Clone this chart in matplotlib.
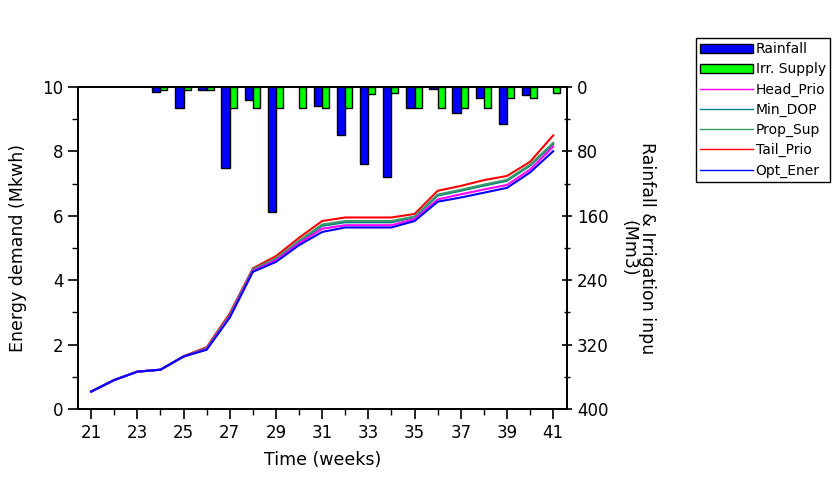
import numpy as np
import matplotlib.pyplot as plt
from matplotlib.patches import Patch
from matplotlib.lines import Line2D

weeks = np.arange(21, 42)
# Energy demand (Mkwh) per strategy
opt_ener = [0.54, 0.90, 1.16, 1.22, 1.63, 1.84, 2.84, 4.26, 4.57, 5.09, 5.50, 5.64, 5.64, 5.64, 5.84,
            6.44, 6.57, 6.72, 6.87, 7.35, 8.01]
head_prio = [0.54, 0.90, 1.16, 1.22, 1.63, 1.86, 2.87, 4.29, 4.62, 5.15, 5.60, 5.71, 5.71, 5.71, 5.90,
             6.51, 6.67, 6.82, 6.96, 7.44, 8.15]
min_dop = [0.54, 0.90, 1.16, 1.22, 1.63, 1.88, 2.90, 4.32, 4.66, 5.20, 5.69, 5.80, 5.80, 5.80, 5.96,
           6.63, 6.78, 6.94, 7.09, 7.56, 8.23]
prop_sup = [0.54, 0.90, 1.16, 1.22, 1.63, 1.89, 2.92, 4.34, 4.68, 5.23, 5.73, 5.84, 5.84, 5.84, 5.98,
            6.66, 6.81, 6.97, 7.12, 7.59, 8.27]
tail_prio = [0.54, 0.90, 1.16, 1.22, 1.64, 1.92, 2.97, 4.37, 4.75, 5.32, 5.84, 5.95, 5.95, 5.95, 6.06,
             6.78, 6.93, 7.11, 7.24, 7.68, 8.50]
# Rainfall and irrigation supply (Mm3)
rainfall = [0, 0, 0, 6, 26, 4, 100, 16, 155, 0, 24, 60, 96, 112, 26,
            2, 32, 14, 46, 10, 0]
irr_supply = [0, 0, 0, 4, 4, 4, 26, 26, 26, 26, 26, 26, 9, 7, 26,
              26, 26, 26, 14, 14, 7]

fig = plt.figure(figsize=(8.36, 4.84), dpi=100)
ax = fig.add_axes([0.0933, 0.155, 0.585, 0.665])
ax2 = ax.twinx()

# bars hang from the top on the inverted right axis (skip empty weeks)
rain = np.array(rainfall)
irr = np.array(irr_supply)
ax2.bar(weeks[rain > 0], rain[rain > 0], width=-0.36, align='edge', color='#0000FF',
        edgecolor='black', linewidth=1)
ax2.bar(weeks[irr > 0], irr[irr > 0], width=0.3, align='edge', color='#00FF00',
        edgecolor='black', linewidth=1)
ax2.set_ylim(400, 0)
ax2.set_yticks(np.arange(0, 401, 80))
ax2.set_yticks(np.arange(40, 400, 80), minor=True)
ax2.tick_params(axis='y', which='major', direction='inout', length=7, width=1.2, labelsize=12)
ax2.tick_params(axis='y', which='minor', direction='inout', length=4, width=1)
ax2.set_ylabel("Rainfall & Irrigation inpu\n(Mm3)", rotation=270, fontsize=12.5,
               labelpad=34, linespacing=1.0)

# lines on the left axis, drawn above the bars
ax.set_zorder(ax2.get_zorder() + 1)
ax.patch.set_visible(False)
ax.plot(weeks, opt_ener, color='#0000FF', lw=1.5, zorder=5)
ax.plot(weeks, head_prio, color='#FF00FF', lw=1.5, zorder=4)
ax.plot(weeks, min_dop, color='#008080', lw=1.5, zorder=3)
ax.plot(weeks, prop_sup, color='#3A9A6A', lw=1.5, zorder=3)
ax.plot(weeks, tail_prio, color='#FF0000', lw=1.5, zorder=2)

ax.set_xlim(20.43, 41.6)
ax.set_ylim(0, 10)
ax.set_xticks(np.arange(21, 42, 2))
ax.set_xticks(np.arange(22, 41, 2), minor=True)
ax.set_yticks(np.arange(0, 11, 2))
ax.set_yticks(np.arange(1, 10, 2), minor=True)
ax.tick_params(which='major', direction='out', length=7, width=1.2, labelsize=12)
ax.tick_params(which='minor', direction='out', length=4, width=1)
ax.set_xlabel("Time (weeks)", fontsize=12.5, labelpad=7)
ax.set_ylabel("Energy demand (Mkwh)", fontsize=12.5, labelpad=11)
for a in (ax, ax2):
    for s in a.spines.values():
        s.set_linewidth(1.3)

handles = [Patch(facecolor='#0000FF', edgecolor='black', label='Rainfall'),
           Patch(facecolor='#00FF00', edgecolor='black', label='Irr. Supply'),
           Line2D([], [], color='#FF00FF', lw=1, label='Head_Prio'),
           Line2D([], [], color='#008080', lw=1, label='Min_DOP'),
           Line2D([], [], color='#3A9A6A', lw=1, label='Prop_Sup'),
           Line2D([], [], color='#FF0000', lw=1, label='Tail_Prio'),
           Line2D([], [], color='#0000FF', lw=1, label='Opt_Ener')]
leg = fig.legend(handles=handles, loc='upper left', bbox_to_anchor=(696 / 836, 1 - 38 / 484),
                 borderaxespad=0, fancybox=False, edgecolor='black', framealpha=1,
                 handlelength=3.8, handleheight=0.6, labelspacing=0.44, borderpad=0.3,
                 handletextpad=0.2, prop={'family': 'DejaVu Sans', 'size': 10})
leg.get_frame().set_linewidth(1)

fig.savefig("out.png", dpi=100)
